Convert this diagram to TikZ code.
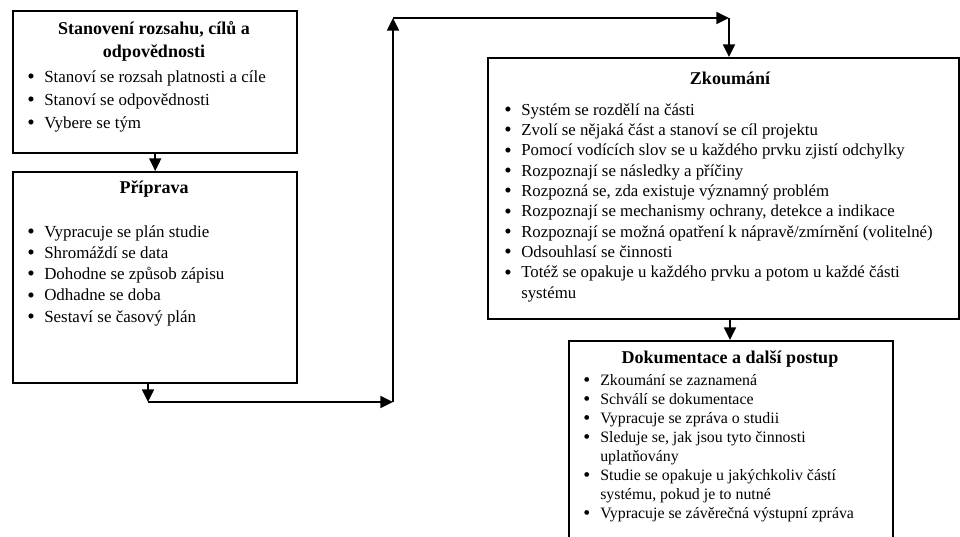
\documentclass[tikz,border=0pt]{standalone}
\usepackage{fontspec}
\setmainfont{Liberation Serif}
\usetikzlibrary{arrows.meta}
\newdimen\px \px=0.75pt
% one bullet item with a hanging indent for wrapped lines
\newcommand\itm[1]{\par\noindent\hangindent=17\px\hangafter=1\makebox[17\px][l]{\raisebox{-0.08em}{\scalebox{1.25}{\textbullet}}}#1}

\begin{document}
\begin{tikzpicture}[x=0.75pt,y=-0.75pt,
  box/.style={draw, line width=1.8pt, fill=white, inner sep=0pt, anchor=north west},
  link/.style={line width=1.3pt, -{Triangle[length=9.5pt,width=9pt]}},
  title/.style={font=\bfseries\fontsize{13.5}{17.25pt}\selectfont, anchor=base, inner sep=0pt, align=center},
  list/.style={anchor=base west, inner sep=0pt},
]
\useasboundingbox (0,0) rectangle (960,536);
\fill[white] (0,0) rectangle (960,536);
\clip (0,0) rectangle (960,536);

% boxes
\node[box, minimum width=284\px, minimum height=142\px] (b1) at (12,10) {};
\node[box, minimum width=284\px, minimum height=211\px] (b2) at (12,171) {};
\node[box, minimum width=471\px, minimum height=261\px] (b3) at (487,57) {};
\node[box, minimum width=324\px, minimum height=220\px] (b4) at (568,340) {};

% titles (the base anchor of a two-line title is its last line)
\node[title] (t1) at (154,57) {Stanovení rozsahu, cílů a\\odpovědnosti};
\node[title] (t2) at (154,193) {Příprava};
\node[title] (t3) at (730,84) {Zkoumání};
\node[title] (t4) at (730,363) {Dokumentace a další postup};

% item lists
\node[list] (l1) at (27,82) {\begin{minipage}[t]{268\px}\fontsize{12.7}{17.25pt}\selectfont
  \itm{Stanoví se rozsah platnosti a cíle}
  \itm{Stanoví se odpovědnosti}
  \itm{Vybere se tým}
\end{minipage}};

\node[list] (l2) at (27,237) {\begin{minipage}[t]{268\px}\fontsize{12.7}{15.94pt}\selectfont
  \itm{Vypracuje se plán studie}
  \itm{Shromáždí se data}
  \itm{Dohodne se způsob zápisu}
  \itm{Odhadne se doba}
  \itm{Sestaví se časový plán}
\end{minipage}};

\node[list] (l3) at (504,115) {\begin{minipage}[t]{450\px}\fontsize{12.6}{15.25pt}\selectfont
  \itm{Systém se rozdělí na části}
  \itm{Zvolí se nějaká část a stanoví se cíl projektu}
  \itm{Pomocí vodících slov se u každého prvku zjistí odchylky}
  \itm{Rozpoznají se následky a příčiny}
  \itm{Rozpozná se, zda existuje významný problém}
  \itm{Rozpoznají se mechanismy ochrany, detekce a indikace}
  \itm{Rozpoznají se možná opatření k nápravě/zmírnění (volitelné)}
  \itm{Odsouhlasí se činnosti}
  \itm{Totéž se opakuje u každého prvku a potom u každé části\\systému}
\end{minipage}};

\node[list] (l4) at (583,385) {\begin{minipage}[t]{305\px}\fontsize{11.9}{14.25pt}\selectfont
  \itm{Zkoumání se zaznamená}
  \itm{Schválí se dokumentace}
  \itm{Vypracuje se zpráva o studii}
  \itm{Sleduje se, jak jsou tyto činnosti\\uplatňovány}
  \itm{Studie se opakuje u jakýchkoliv částí\\systému, pokud je to nutné}
  \itm{Vypracuje se závěrečná výstupní zpráva}
\end{minipage}};

% connector corners
\coordinate (k1) at (148,402);
\coordinate (k2) at (393,402);
\coordinate (k3) at (393,18);
\coordinate (k4) at (729,18);
\coordinate (k5) at (730,330);

% connectors
\draw[link] (b1.south) -- (b2.north);
\draw[link] (k1 |- b2.south) -- (k1);
\draw[link] (k1) -- (k2);
\draw[link] (k2) -- (k3);
\draw[link] (k3) -- (k4);
\draw[link] (k4) -- (k4 |- b3.north);
\draw[link] (k5 |- b3.south) -- (k5 |- b4.north);
\end{tikzpicture}
\end{document}
